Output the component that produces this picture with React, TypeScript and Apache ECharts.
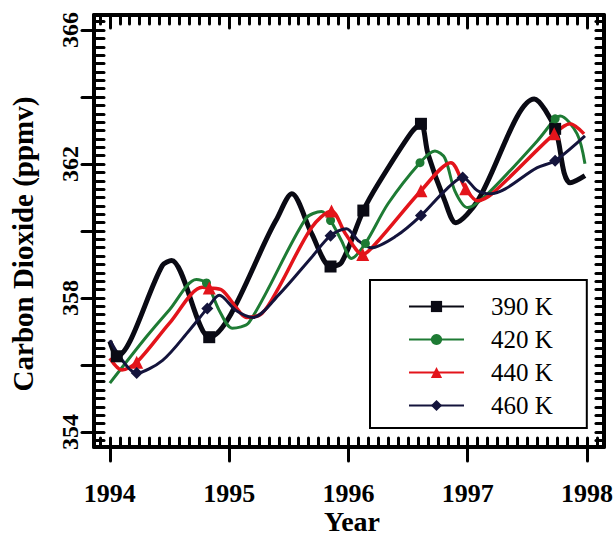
import React, { useEffect, useRef } from "react";
import * as echarts from "echarts";

// Axis ticks / labels
const yearTicks = [1994, 1995, 1996, 1997, 1998];
const yMajorTicks = [354, 356, 358, 360, 362, 364, 366];
const yLabelTicks = [354, 358, 362, 366];

// 390 K
const t390 = [1994.0, 1994.058, 1994.44, 1994.517, 1994.833, 1995.392, 1995.525, 1995.692, 1995.85, 1995.942, 1996.125, 1996.25, 1996.525, 1996.608, 1996.667, 1996.808, 1996.9, 1997.083, 1997.558, 1997.733, 1997.808, 1997.858, 1997.983];
const v390 = [356.71, 356.26, 358.97, 359.12, 356.83, 360.31, 361.11, 359.92, 358.94, 359.06, 360.61, 361.41, 362.93, 363.2, 362.3, 360.9, 360.25, 360.9, 363.94, 363.05, 361.74, 361.44, 361.65];
const mk390 = [1, 4, 8, 10, 13, 19];

// 420 K
const t420 = [1994.0, 1994.308, 1994.5, 1994.725, 1994.81, 1994.917, 1995.025, 1995.167, 1995.642, 1995.775, 1995.85, 1995.942, 1996.025, 1996.142, 1996.333, 1996.6, 1996.725, 1996.808, 1996.892, 1997.0, 1997.167, 1997.583, 1997.733, 1997.775, 1997.917, 1997.983];
const v420 = [355.46, 356.85, 357.65, 358.55, 358.45, 357.63, 357.1, 357.27, 360.37, 360.58, 360.31, 359.71, 359.18, 359.63, 360.82, 362.04, 362.39, 362.18, 361.2, 360.7, 361.11, 362.69, 363.35, 363.43, 362.9, 362.01];
const mk420 = [4, 10, 13, 15, 22];

// 440 K
const t440 = [1994.0, 1994.1, 1994.225, 1994.5, 1994.775, 1994.833, 1994.942, 1995.058, 1995.142, 1995.275, 1995.417, 1995.69, 1995.858, 1995.975, 1996.12, 1996.25, 1996.608, 1996.858, 1996.983, 1997.083, 1997.2, 1997.725, 1997.858, 1997.975];
const v440 = [356.2, 355.85, 356.08, 357.25, 358.32, 358.3, 358.23, 357.72, 357.42, 357.54, 358.32, 360.1, 360.6, 359.92, 359.3, 359.71, 361.2, 362.04, 361.26, 360.9, 361.1, 362.9, 363.2, 362.9];
const mk440 = [2, 5, 12, 14, 16, 18, 21];

// 460 K
const t460 = [1994.0, 1994.225, 1994.442, 1994.667, 1994.817, 1994.917, 1995.058, 1995.2, 1995.417, 1995.69, 1995.85, 1995.983, 1996.083, 1996.19, 1996.4, 1996.608, 1996.808, 1996.958, 1997.083, 1997.19, 1997.583, 1997.733, 1997.983];
const v460 = [356.74, 355.76, 356.14, 357.04, 357.69, 358.08, 357.63, 357.42, 358.1, 359.21, 359.86, 360.07, 359.71, 359.5, 359.85, 360.46, 361.2, 361.6, 361.2, 361.11, 361.89, 362.1, 362.84];
const mk460 = [1, 4, 10, 15, 17, 21];

const X_MIN = 1993.867;
const X_MAX = 1998.142;
const Y_MIN = 353.552;
const Y_MAX = 366.448;

const FONT = "Liberation Serif";

function buildData(t: number[], v: number[], marks: number[]) {
  return t.map((x, i) =>
    marks.includes(i) ? [x, v[i]] : { value: [x, v[i]], symbol: "none" }
  );
}

function monthTicks() {
  const out: number[] = [];
  for (let i = -2; i <= 50; i++) {
    const val = 1994 + i / 12;
    if (val > X_MIN + 0.01 && val < X_MAX - 0.01) out.push(val);
  }
  return out;
}

function quarterTicks() {
  const out: number[] = [];
  for (let i = -2; i <= 52; i++) {
    const val = 354 + i * 0.25;
    if (val > Y_MIN + 0.05 && val < Y_MAX - 0.05) out.push(val);
  }
  return out;
}

export default function App() {
  const ref = useRef<HTMLDivElement>(null);
  useEffect(() => {
    const chart = echarts.init(ref.current!, null, { renderer: "svg" });
    const months = monthTicks();
    const quarters = quarterTicks();
    const axisLine = { show: true, lineStyle: { color: "#000", width: 4 } };
    const tickStyle = { color: "#000", width: 3, cap: "round" as const };
    const baseX = {
      type: "value" as const,
      min: X_MIN,
      max: X_MAX,
      splitLine: { show: false },
    };
    const baseY = {
      type: "value" as const,
      min: Y_MIN,
      max: Y_MAX,
      splitLine: { show: false },
    };
    const mkSeries = (
      name: string,
      t: number[],
      v: number[],
      m: number[],
      color: string,
      width: number,
      symbol: string,
      size: number
    ) => ({
      name,
      type: "line" as const,
      xAxisIndex: 0,
      yAxisIndex: 0,
      data: buildData(t, v, m),
      smooth: 0.3,
      symbol,
      symbolSize: size,
      showSymbol: true,
      showAllSymbol: true,
      lineStyle: { color, width },
      itemStyle: { color },
      z: 3,
    });
    chart.setOption({
      animation: false,
      backgroundColor: "#fff",
      grid: { left: 94, right: 9, top: 15, bottom: 90, containLabel: false },
      xAxis: [
        {
          ...baseX,
          position: "bottom",
          axisLine,
          axisTick: { show: true, inside: false, length: 14, customValues: yearTicks, lineStyle: tickStyle },
          axisLabel: {
            show: true,
            customValues: yearTicks,
            margin: 33,
            fontFamily: FONT,
            fontWeight: "bold",
            fontSize: 26,
            color: "#000",
            formatter: (v: number) => String(Math.round(v)),
          },
        },
        {
          ...baseX,
          position: "bottom",
          axisLine: { show: false },
          axisTick: { show: true, inside: true, length: 9, customValues: months, lineStyle: tickStyle },
          axisLabel: { show: false },
        },
        {
          ...baseX,
          position: "top",
          axisLine,
          axisTick: { show: true, inside: true, length: 9, customValues: months, lineStyle: tickStyle },
          axisLabel: { show: false },
        },
        {
          ...baseX,
          position: "top",
          axisLine: { show: false },
          axisTick: { show: true, inside: true, length: 13, customValues: yearTicks, lineStyle: tickStyle },
          axisLabel: { show: false },
        },
      ],
      yAxis: [
        {
          ...baseY,
          position: "left",
          axisLine,
          axisTick: { show: true, inside: false, length: 12, customValues: yMajorTicks, lineStyle: tickStyle },
          axisLabel: {
            show: true,
            customValues: yLabelTicks,
            rotate: 90,
            margin: 12,
            fontFamily: FONT,
            fontWeight: "bold",
            fontSize: 24,
            color: "#000",
            formatter: (v: number) => String(Math.round(v)),
          },
        },
        {
          ...baseY,
          position: "left",
          axisLine: { show: false },
          axisTick: { show: true, inside: true, length: 10, customValues: quarters, lineStyle: tickStyle },
          axisLabel: { show: false },
        },
        {
          ...baseY,
          position: "right",
          axisLine,
          axisTick: { show: true, inside: true, length: 8, customValues: quarters, lineStyle: tickStyle },
          axisLabel: { show: false },
        },
      ],
      legend: {
        show: true,
        orient: "vertical",
        left: 370,
        top: 280,
        itemWidth: 55,
        itemHeight: 14,
        itemGap: 8,
        padding: [14, 34, 10, 38],
        borderColor: "#000",
        borderWidth: 2,
        borderRadius: 0,
        backgroundColor: "#fff",
        z: 10,
        textStyle: {
          fontFamily: FONT,
          fontSize: 25,
          lineHeight: 25,
          color: "#000",
          padding: [0, 0, 0, 22],
        },
        data: ["390 K", "420 K", "440 K", "460 K"],
      },
      graphic: [
        {
          type: "text",
          x: 23,
          y: 244,
          rotation: Math.PI / 2,
          style: {
            text: "Carbon Dioxide (ppmv)",
            fontFamily: FONT,
            fontWeight: "bold",
            fontSize: 29,
            fill: "#000",
            textAlign: "center",
            textVerticalAlign: "middle",
          },
        },
        {
          type: "text",
          x: 352,
          y: 521,
          style: {
            text: "Year",
            fontFamily: FONT,
            fontWeight: "bold",
            fontSize: 28,
            fill: "#000",
            textAlign: "center",
            textVerticalAlign: "middle",
          },
        },
      ],
      series: [
        mkSeries("390 K", t390, v390, mk390, "#0a0a14", 5, "rect", 12),
        mkSeries("420 K", t420, v420, mk420, "#1e7b34", 3, "circle", 9),
        mkSeries("440 K", t440, v440, mk440, "#e3141b", 3.5, "triangle", 13),
        mkSeries("460 K", t460, v460, mk460, "#14143c", 3, "diamond", 12),
      ],
    });
    return () => chart.dispose();
  }, []);
  return (
    <div
      ref={ref}
      style={{ position: "fixed", left: 0, top: 0, width: 616, height: 537 }}
    />
  );
}
